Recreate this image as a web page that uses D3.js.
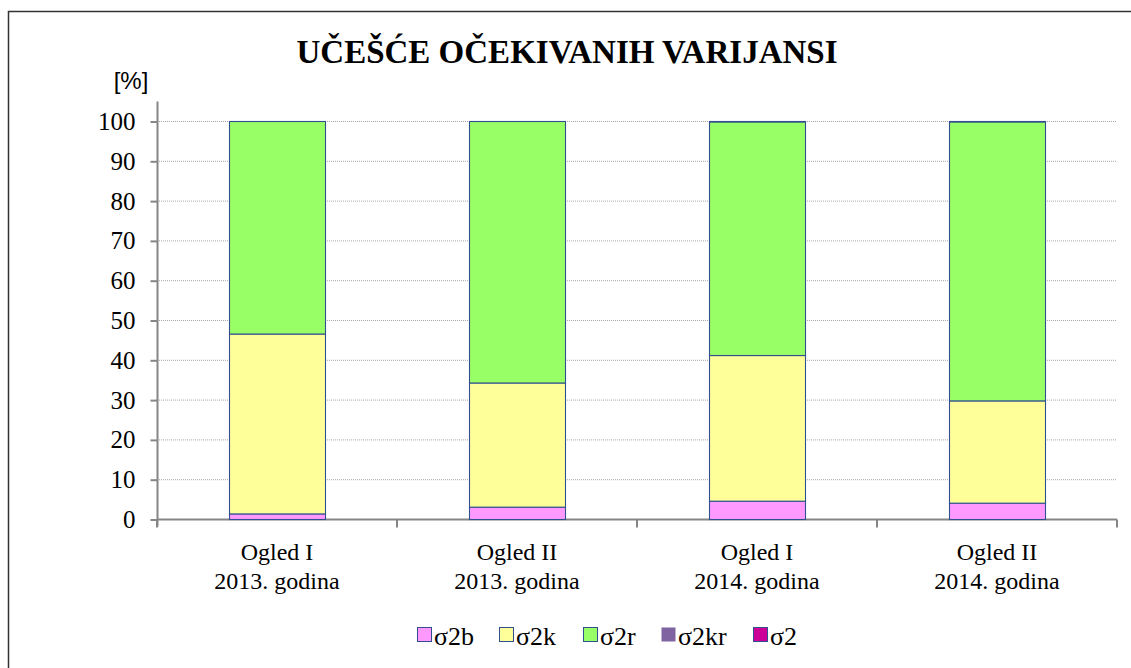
<!DOCTYPE html>
<html>
<head>
<meta charset="utf-8">
<script src="https://cdn.jsdelivr.net/npm/d3@7"></script>
<style>
  body { margin: 0; background: #fff; }
  svg { display: block; }
</style>
</head>
<body>
<div id="chart"></div>
<script>
// chart data
var categories = [["Ogled I", "2013. godina"], ["Ogled II", "2013. godina"], ["Ogled I", "2014. godina"], ["Ogled II", "2014. godina"]];
var seriesNames = ["σ2b", "σ2k", "σ2r", "σ2kr", "σ2"];
var sigmaB = [1.4, 3.1, 4.6, 4.1];
var sigmaK = [45.2, 31.2, 36.6, 25.7];
var sigmaR = [53.4, 65.7, 58.7, 70.1];
var sigmaKR = [0, 0, 0.1, 0.1];
var sigma = [0, 0, 0, 0];
var yTicks = [0, 10, 20, 30, 40, 50, 60, 70, 80, 90, 100];

var colors = ["#FF99FF", "#FFFF99", "#99FF66", "#8064A2", "#CC0099"];
var serif = "'Liberation Serif', 'Times New Roman', serif";

// build rows for the stack
var rows = categories.map(function (c, i) {
    return { key: i, "σ2b": sigmaB[i], "σ2k": sigmaK[i], "σ2r": sigmaR[i], "σ2kr": sigmaKR[i], "σ2": sigma[i] };
});
var stacked = d3.stack().keys(seriesNames)(rows);

var W = 1131, H = 668;
var svg = d3.select("#chart").append("svg")
    .attr("width", W)
    .attr("height", H);

// outer frame
svg.append("rect")
    .attr("x", 8.5).attr("y", 11.5)
    .attr("width", 1200).attr("height", 700)
    .attr("fill", "white")
    .attr("stroke", "#333").attr("stroke-width", 1.5);

var plotLeft = 157, plotRight = 1117, plotTop = 121, plotBottom = 519;

var x = d3.scaleBand()
    .domain(d3.range(categories.length))
    .range([plotLeft, plotRight])
    .paddingInner(0.6)
    .paddingOuter(0.3);

var y = d3.scaleLinear()
    .domain([0, 100])
    .range([plotBottom, plotTop]);

// gridlines
svg.append("g").selectAll("line")
    .data(yTicks.filter(function (t) { return t > 0; }))
    .enter().append("line")
        .attr("x1", plotLeft).attr("x2", plotRight)
        .attr("y1", function (d) { return y(d) + 0.5; })
        .attr("y2", function (d) { return y(d) + 0.5; })
        .attr("stroke", "#a6a6a6")
        .attr("stroke-dasharray", "1,1");

// y axis
var yAxis = svg.append("g")
    .attr("transform", "translate(" + (plotLeft + 0.5) + ",0.5)")
    .call(d3.axisLeft(y).tickValues(yTicks).tickSize(7).tickPadding(15));
yAxis.attr("font-family", null).attr("font-size", null);
yAxis.select(".domain").attr("stroke", "#868686").attr("stroke-width", 2).attr("d", "M0," + (plotBottom + 7) + "V" + (plotTop - 20));
yAxis.selectAll(".tick line").attr("stroke", "#868686").attr("stroke-width", 2);
yAxis.selectAll(".tick text")
    .style("font-family", serif).style("font-size", "25px").attr("fill", "#000");

// x axis
var xAxis = svg.append("g")
    .attr("transform", "translate(0," + (plotBottom + 0.5) + ")");
xAxis.append("line")
    .attr("x1", plotLeft).attr("x2", plotRight)
    .attr("stroke", "#868686").attr("stroke-width", 2);
var step = (plotRight - plotLeft) / categories.length;
xAxis.selectAll(".xt")
    .data(d3.range(categories.length + 1))
    .enter().append("line")
        .attr("class", "xt")
        .attr("x1", function (d) { return plotLeft + d * step; })
        .attr("x2", function (d) { return plotLeft + d * step; })
        .attr("y1", 0).attr("y2", 8)
        .attr("stroke", "#868686").attr("stroke-width", 2);
var labels = xAxis.selectAll(".xl")
    .data(categories)
    .enter().append("text")
        .attr("class", "xl")
        .attr("text-anchor", "middle")
        .style("font-family", serif).style("font-size", "24px")
        .attr("x", function (d, i) { return x(i) + x.bandwidth() / 2; });
labels.append("tspan").attr("x", function (d, i) { return x(i) + x.bandwidth() / 2; }).attr("y", 40).text(function (d) { return d[0]; });
labels.append("tspan").attr("x", function (d, i) { return x(i) + x.bandwidth() / 2; }).attr("y", 69).text(function (d) { return d[1]; });

// stacked bars
svg.append("g").selectAll("g")
    .data(stacked)
    .enter().append("g")
        .attr("fill", function (d, i) { return colors[i]; })
    .selectAll("rect")
    .data(function (d) { return d; })
    .enter().append("rect")
        .filter(function (d) { return d[1] - d[0] > 0; })
        .attr("x", function (d, i) { return x(d.data.key) + 0.5; })
        .attr("y", function (d) { return y(d[1]) + 0.5; })
        .attr("width", x.bandwidth())
        .attr("height", function (d) { return y(d[0]) - y(d[1]); })
        .attr("stroke", "#2f4f8f")
        .attr("stroke-width", 1.1);

// title
svg.append("text")
    .attr("x", 567).attr("y", 63)
    .attr("text-anchor", "middle")
    .style("font-family", serif).style("font-weight", "bold").style("font-size", "33px")
    .text("UČEŠĆE OČEKIVANIH VARIJANSI");

// unit label
svg.append("text")
    .attr("x", 131).attr("y", 89)
    .attr("text-anchor", "middle")
    .style("font-family", "'Liberation Sans', Arial, sans-serif").style("font-size", "24px")
    .text("[%]");

// legend
var legendX = [417, 499, 583, 661, 753];
var legend = svg.append("g").selectAll("g")
    .data(seriesNames)
    .enter().append("g")
        .attr("transform", function (d, i) { return "translate(" + legendX[i] + ",627)"; });
legend.append("rect")
    .attr("x", 0.5).attr("y", 0.5)
    .attr("width", 14).attr("height", 14)
    .attr("fill", function (d, i) { return colors[i]; })
    .attr("stroke", function (d, i) { return i === 3 ? "none" : "#2f4f8f"; })
    .attr("stroke-width", 1);
legend.append("text")
    .attr("x", 17).attr("y", 18)
    .style("font-family", serif).style("font-size", "26px")
    .text(function (d) { return d; });
</script>
</body>
</html>
